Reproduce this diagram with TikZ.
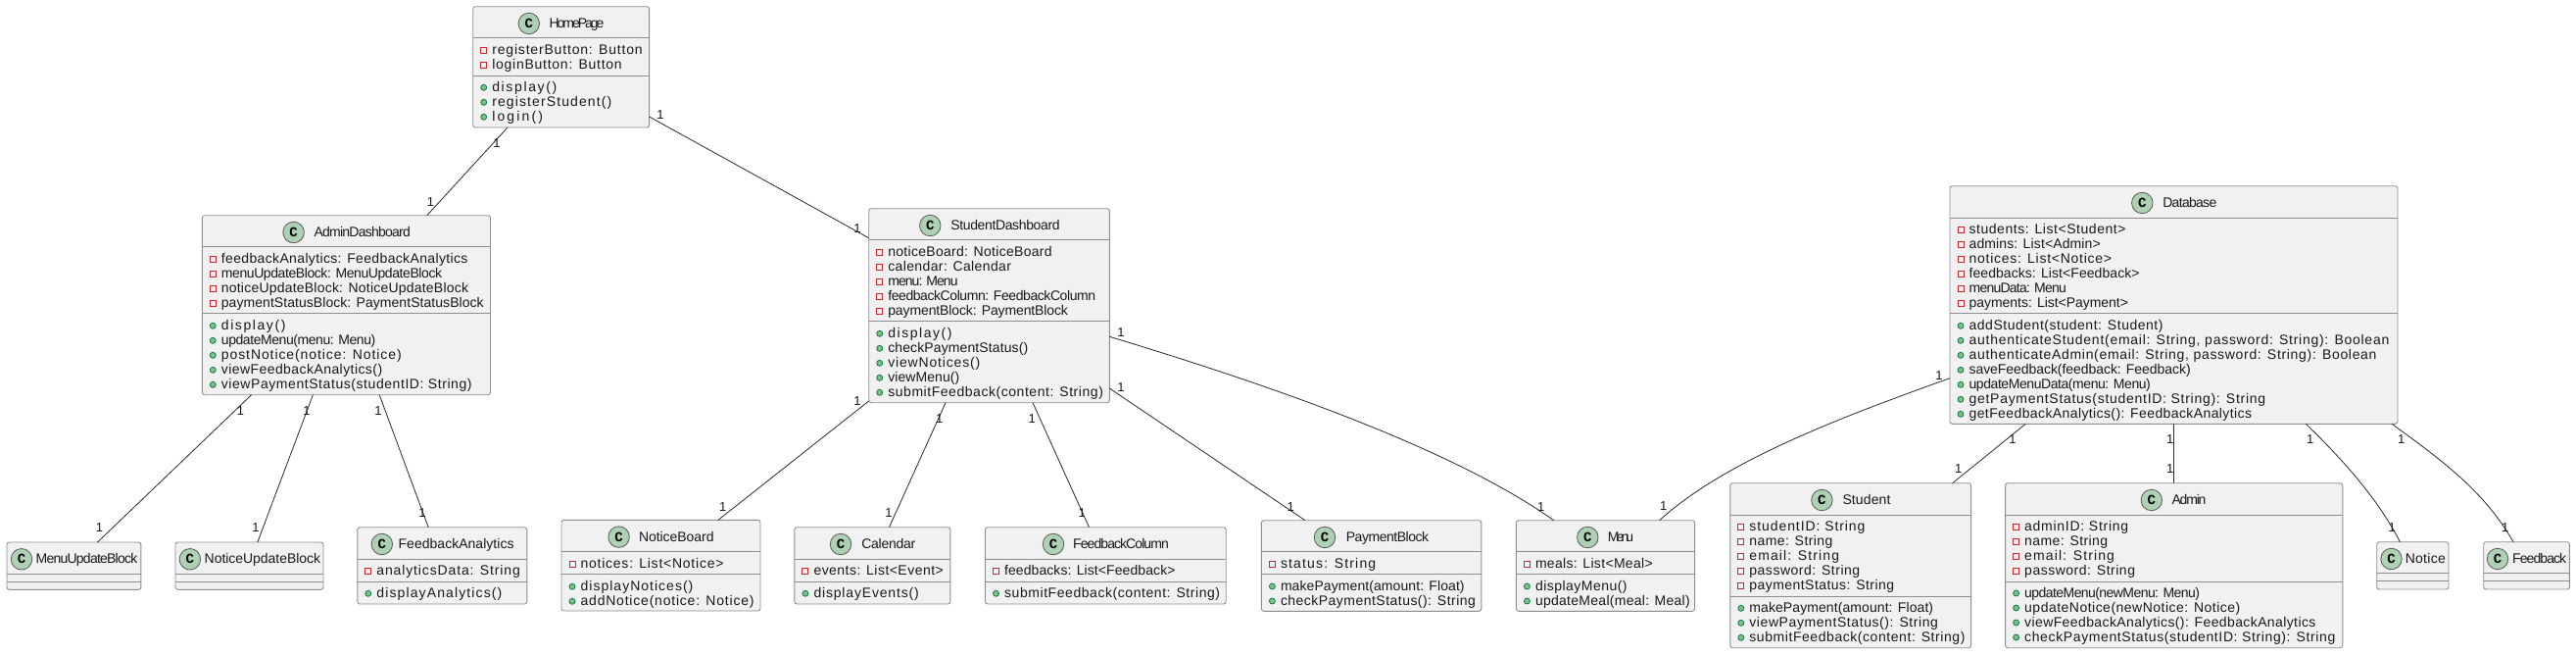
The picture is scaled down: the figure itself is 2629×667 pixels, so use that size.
\documentclass[tikz,border=0pt]{standalone}
\usepackage{fontspec}
\setmainfont{Liberation Sans}
\newfontfamily\cfont{Liberation Mono}
\definecolor{boxfill}{HTML}{F1F1F1}
\definecolor{boxline}{HTML}{8E8E8E}
\definecolor{linkline}{HTML}{2A2A2A}
\definecolor{fieldred}{HTML}{C82930}
\definecolor{methgreen}{HTML}{038048}
\definecolor{methfill}{HTML}{84BE84}
\definecolor{circfill}{HTML}{ADD1B2}
\tikzset{
  classnode/.style={draw=boxline,fill=boxfill,line width=.9pt,rounded corners=2.5pt,inner sep=0pt,outer sep=0pt,rectangle},
  sepline/.style={draw=boxline,line width=.9pt},
  iconfield/.style={draw=fieldred,fill=boxfill,line width=.9pt,rectangle,minimum size=6pt,inner sep=0pt,outer sep=0pt},
  iconmeth/.style={draw=methgreen,fill=methfill,line width=.8pt,circle,minimum size=6pt,inner sep=0pt,outer sep=0pt},
  rowtext/.style={anchor=base west,inner sep=0pt,outer sep=0pt,text=black!90,font=\fontsize{14}{16}\selectfont},
  titletext/.style={anchor=base,inner sep=0pt,outer sep=0pt,text=black!90,font=\fontsize{14}{16}\selectfont},
  spot/.style={circle,draw=black!65,fill=circfill,line width=.8pt,minimum size=21.5pt,inner sep=0pt,outer sep=0pt,font=\cfont\bfseries\fontsize{14}{16}\selectfont},
  mult/.style={inner sep=0pt,outer sep=0pt,text=black!90,font=\fontsize{13}{15}\selectfont},
  assoc/.style={draw=linkline,line width=.8pt},
}
\ExplSyntaxOn
\cs_new:Npn \charcount #1 { \str_count:n { #1 } }
\ExplSyntaxOff
\newbox\fitbox
\newcommand{\fittext}[2]{%
  \setbox\fitbox=\hbox{#2}%
  \edef\nch{\charcount{#2}}%
  \pgfmathparse{round(((#1-\the\wd\fitbox)/(\nch-1))/14*100*100)/100}%
  \edef\lsval{\pgfmathresult}%
  {\addfontfeature{LetterSpace=\lsval}#2}%
}
\newcount\rowno
\newcommand{\classbox}[7]{%
  \pgfmathsetmacro{\bxl}{#2}\pgfmathsetmacro{\bxr}{#4}%
  \pgfmathsetmacro{\cy}{#3+17.3}%
  \pgfmathsetmacro{\txl}{#2+19.6}\pgfmathsetmacro{\icl}{#2+11}%
  \pgfmathsetmacro{\bw}{#4-#2}\pgfmathsetmacro{\bh}{#5-#3}%
  \node[classnode,anchor=north west,minimum width=\bw pt,minimum height=\bh pt] (#1) at (#2,#3) {};
  \draw[sepline] (#2,#6) -- (#4,#6);
  \draw[sepline] (#2,#7) -- (#4,#7);
}
\newcommand{\classtitle}[5]{%
  \node[spot] (#1-c) at (#2,\cy) {C};
  \node[titletext] (#1-t) at (#3,\cy+4.6) {\fittext{#4}{#5}};
}
\newcommand{\fieldrow}[3]{%
  \global\advance\rowno by 1
  \node[iconfield] (i\the\rowno) at (\icl,#1) {};
  \node[rowtext] (r\the\rowno) at (\txl,#1+4.6) {\fittext{#2}{#3}};
}
\newcommand{\methrow}[3]{%
  \global\advance\rowno by 1
  \node[iconmeth] (i\the\rowno) at (\icl,#1) {};
  \node[rowtext] (r\the\rowno) at (\txl,#1+4.6) {\fittext{#2}{#3}};
}
\newcommand{\multlabel}[2]{%
  \global\advance\rowno by 1
  \node[mult] (m\the\rowno) at (#1,#2) {1};
}
\begin{document}
\begin{tikzpicture}[x=1pt,y=-1pt]
\useasboundingbox (0,0) rectangle (2629,667);
\fill[white] (0,0) rectangle (2629,667);

\classbox{home}{482.7}{6.7}{662.6}{130}{38.7}{77}
\classtitle{home}{539.8}{588.5}{56}{HomePage}
\fieldrow{51.3}{154}{registerButton: Button}
\fieldrow{66.3}{133}{loginButton: Button}
\methrow{89.3}{66}{display()}
\methrow{104.3}{122}{registerStudent()}
\methrow{119.3}{51.8}{login()}

\classbox{admin}{206.3}{219.7}{500.5}{402.7}{251.7}{319.7}
\classtitle{admin}{299.6}{369.7}{98.2}{AdminDashboard}
\fieldrow{264}{251.8}{feedbackAnalytics: FeedbackAnalytics}
\fieldrow{279}{225}{menuUpdateBlock: MenuUpdateBlock}
\fieldrow{294}{252.3}{noticeUpdateBlock: NoticeUpdateBlock}
\fieldrow{309}{267.9}{paymentStatusBlock: PaymentStatusBlock}
\methrow{332.3}{65.6}{display()}
\methrow{347.3}{157.2}{updateMenu(menu: Menu)}
\methrow{362.3}{184.4}{postNotice(notice: Notice)}
\methrow{377.3}{164.3}{viewFeedbackAnalytics()}
\methrow{392.3}{256.3}{viewPaymentStatus(studentID: String)}

\classbox{sd}{886.7}{212.7}{1132.3}{410.7}{244}{327.3}
\classtitle{sd}{949.3}{1026}{111.3}{StudentDashboard}
\fieldrow{257.3}{167.6}{noticeBoard: NoticeBoard}
\fieldrow{272.3}{126}{calendar: Calendar}
\fieldrow{287.3}{70.6}{menu: Menu}
\fieldrow{302.3}{211.6}{feedbackColumn: FeedbackColumn}
\fieldrow{317.3}{183.6}{paymentBlock: PaymentBlock}
\methrow{340.3}{65.3}{display()}
\methrow{355.3}{143}{checkPaymentStatus()}
\methrow{370.3}{94}{viewNotices()}
\methrow{385.3}{73}{viewMenu()}
\methrow{400.3}{220}{submitFeedback(content: String)}

\classbox{db}{1990}{189.7}{2447}{432.3}{222}{319.7}
\classtitle{db}{2186.3}{2234.8}{55}{Database}
\fieldrow{234}{160.3}{students: List<Student>}
\fieldrow{249}{134.3}{admins: List<Admin>}
\fieldrow{264}{146}{notices: List<Notice>}
\fieldrow{279}{174}{feedbacks: List<Feedback>}
\fieldrow{294}{98.7}{menuData: Menu}
\fieldrow{309}{162.3}{payments: List<Payment>}
\methrow{332.3}{198.3}{addStudent(student: Student)}
\methrow{347.3}{431}{authenticateStudent(email: String, password: String): Boolean}
\methrow{362.3}{418}{authenticateAdmin(email: String, password: String): Boolean}
\methrow{377.3}{226}{saveFeedback(feedback: Feedback)}
\methrow{392.3}{185}{updateMenuData(menu: Menu)}
\methrow{407.3}{303.7}{getPaymentStatus(studentID: String): String}
\methrow{422.3}{288.7}{getFeedbackAnalytics(): FeedbackAnalytics}

\classbox{mub}{7}{553}{143.9}{601.3}{585}{593}
\classtitle{mub}{22}{88.5}{103.6}{MenuUpdateBlock}
\classbox{nub}{179}{553}{330}{601.3}{585}{593}
\classtitle{nub}{193.9}{267.9}{118.4}{NoticeUpdateBlock}

\classbox{fa}{364.8}{537.7}{537.8}{616}{570}{593}
\classtitle{fa}{389.8}{465.6}{117.9}{FeedbackAnalytics}
\fieldrow{582.3}{147}{analyticsData: String}
\methrow{605.3}{128}{displayAnalytics()}

\classbox{nb}{573}{530.3}{776}{623}{562.7}{585.3}
\classtitle{nb}{631.6}{690.3}{76.5}{NoticeBoard}
\fieldrow{575}{146.4}{notices: List<Notice>}
\methrow{598.3}{114.8}{displayNotices()}
\methrow{613.3}{177.5}{addNotice(notice: Notice)}

\classbox{cal}{810.9}{537.7}{969.9}{616}{570}{593}
\classtitle{cal}{858}{906.8}{55}{Calendar}
\fieldrow{582.3}{132.6}{events: List<Event>}
\methrow{605.3}{107.3}{displayEvents()}

\classbox{fc}{1005.5}{537.7}{1251.2}{616}{570}{593}
\classtitle{fc}{1075}{1144}{97.6}{FeedbackColumn}
\fieldrow{582.3}{174.5}{feedbacks: List<Feedback>}
\methrow{605.3}{220.4}{submitFeedback(content: String)}

\classbox{pb}{1287.4}{530.7}{1511.8}{623.3}{562.3}{585.3}
\classtitle{pb}{1352}{1416}{84.4}{PaymentBlock}
\fieldrow{575}{98}{status: String}
\methrow{598}{187.7}{makePayment(amount: Float)}
\methrow{613}{199.2}{checkPaymentStatus(): String}

\classbox{menu}{1547.4}{530.7}{1729.6}{623.3}{562.3}{585.3}
\classtitle{menu}{1620.3}{1654}{26.4}{Menu}
\fieldrow{575}{120}{meals: List<Meal>}
\methrow{598}{93.6}{displayMenu()}
\methrow{613}{158}{updateMeal(meal: Meal)}

\classbox{stu}{1765.8}{492.7}{2011.6}{660.7}{525}{608}
\classtitle{stu}{1859.4}{1905}{49}{Student}
\fieldrow{537.3}{119}{studentID: String}
\fieldrow{552.3}{85.3}{name: String}
\fieldrow{567.3}{92.4}{email: String}
\fieldrow{582.3}{113.2}{password: String}
\fieldrow{597.3}{148}{paymentStatus: String}
\methrow{620.3}{187.8}{makePayment(amount: Float)}
\methrow{635.3}{193}{viewPaymentStatus(): String}
\methrow{650.3}{220.4}{submitFeedback(content: String)}

\classbox{adm}{2046.6}{492.7}{2390.8}{660.7}{525}{593}
\classtitle{adm}{2195.8}{2234}{35}{Admin}
\fieldrow{537.3}{106.7}{adminID: String}
\fieldrow{552.3}{85.3}{name: String}
\fieldrow{567.3}{92.5}{email: String}
\fieldrow{582.3}{113.2}{password: String}
\methrow{605}{178.4}{updateMenu(newMenu: Menu)}
\methrow{620}{220.5}{updateNotice(newNotice: Notice)}
\methrow{635}{297.5}{viewFeedbackAnalytics(): FeedbackAnalytics}
\methrow{650}{318.2}{checkPaymentStatus(studentID: String): String}

\classbox{not}{2425.7}{552.7}{2499}{601}{584.7}{592.7}
\classtitle{not}{2440.5}{2475.3}{41}{Notice}
\classbox{fb}{2534.7}{552.7}{2622.4}{601}{584.7}{592.7}
\classtitle{fb}{2549}{2591.7}{55}{Feedback}

\draw[assoc] ([xshift=35.3pt]home.south west) -- ([xshift=229.5pt]admin.north west);
\draw[assoc] ([yshift=-112.3pt]home.north east) -- ([yshift=-30pt]sd.north west);
\draw[assoc] ([xshift=50.3pt]admin.south west) -- ([xshift=92.5pt]mub.north west);
\draw[assoc] ([xshift=113.1pt]admin.south west) -- ([xshift=83.8pt]nub.north west);
\draw[assoc] ([xshift=180.9pt]admin.south west) -- ([xshift=72.4pt]fa.north west);
\draw[assoc] ([yshift=1.7pt]sd.south west) -- ([xshift=160pt]nb.north west);
\draw[assoc] ([xshift=78.3pt]sd.south west) -- ([xshift=96.6pt]cal.north west);
\draw[assoc] ([xshift=167.3pt]sd.south west) -- ([xshift=106pt]fc.north west);
\draw[assoc] ([yshift=14.7pt]sd.south east) -- ([xshift=44.6pt]pb.north west);
\draw[assoc] ([yshift=-130.6pt]sd.north east) .. controls (1270,385) and (1475,452) .. ([xshift=38.3pt]menu.north west);
\draw[assoc] ([yshift=-196pt]db.north west) .. controls (1880,425) and (1760,470) .. ([xshift=146.2pt]menu.north west);
\draw[assoc] ([xshift=77.3pt]db.south west) -- ([xshift=226.9pt]stu.north west);
\draw[assoc] ([xshift=228.4pt]db.south west) -- ([xshift=171.8pt]adm.north west);
\draw[assoc] ([xshift=363.3pt]db.south west) .. controls (2385,463) and (2425,505) .. ([xshift=23.7pt]not.north west);
\draw[assoc] ([xshift=451pt]db.south west) .. controls (2490,468) and (2535,500) .. ([xshift=30.3pt]fb.north west);

\multlabel{507}{145.7}
\multlabel{439.4}{205.7}
\multlabel{674}{117}
\multlabel{875}{232.7}
\multlabel{245.4}{418.7}
\multlabel{101.5}{538.3}
\multlabel{313}{418.7}
\multlabel{261}{538.3}
\multlabel{386}{418.7}
\multlabel{431}{523}
\multlabel{875}{409.3}
\multlabel{737.8}{516.7}
\multlabel{958.7}{426.7}
\multlabel{907}{523.3}
\multlabel{1053.3}{426.7}
\multlabel{1104.3}{523.3}
\multlabel{1144}{395}
\multlabel{1317.3}{516.7}
\multlabel{1144}{339.3}
\multlabel{1572.7}{516.7}
\multlabel{1979}{382.7}
\multlabel{1697.7}{516}
\multlabel{2054}{448.3}
\multlabel{1998.6}{478.3}
\multlabel{2214.8}{448.3}
\multlabel{2214.8}{478.3}
\multlabel{2357.7}{448.3}
\multlabel{2441.3}{537.7}
\multlabel{2450.7}{448.3}
\multlabel{2556.7}{537.7}
\end{tikzpicture}
\end{document}
